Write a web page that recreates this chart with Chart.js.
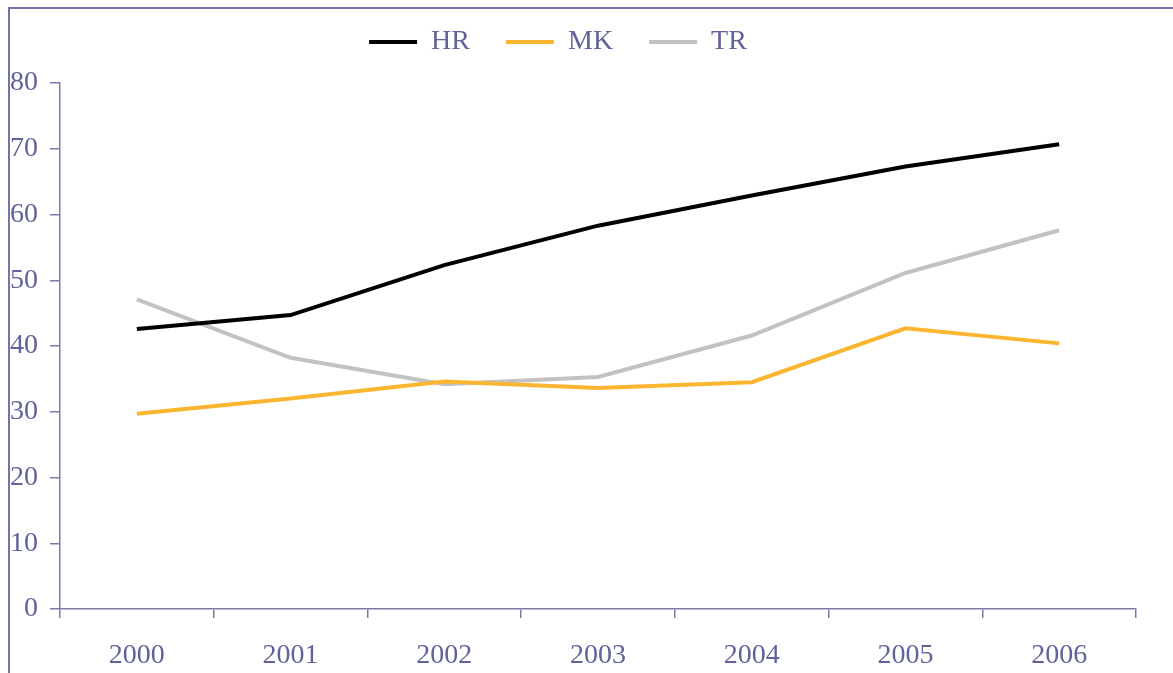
<!DOCTYPE html>
<html>
<head>
<meta charset="utf-8">
<script src="https://cdn.jsdelivr.net/npm/chart.js@4"></script>
<style>
  html, body { margin: 0; padding: 0; background: #fff; }
  #wrap { position: relative; width: 1173px; height: 673px; overflow: hidden; }
  #frame { position: absolute; left: 8px; top: 7px; width: 1200px; height: 700px;
           border-left: 2px solid #7474a6; border-top: 2px solid #7474a6; box-sizing: border-box; }
  canvas { position: absolute; left: 0; top: 0; }
</style>
</head>
<body>
<div id="wrap">
  <div id="frame"></div>
  <canvas id="chart" width="1173" height="673"></canvas>
</div>
<script>
// Data
const years = ['2000', '2001', '2002', '2003', '2004', '2005', '2006'];
const hrValues = [42.6, 44.7, 52.3, 58.3, 62.9, 67.3, 70.7];
const mkValues = [29.7, 32.0, 34.6, 33.6, 34.5, 42.7, 40.4];
const trValues = [47.1, 38.2, 34.2, 35.3, 41.6, 51.1, 57.6];

const axisColor = '#7a7aaa';
const textColor = '#62629a';
const serif = "'Liberation Serif', 'Times New Roman', serif";

const makeLine = (label, data, color) => ({
  label,
  data,
  borderColor: color,
  backgroundColor: color,
  borderWidth: 4,
  pointRadius: 0,
  pointHoverRadius: 0,
  tension: 0,
  fill: false
});

// nudge the legend row up and a little to the left
const legendShift = {
  id: 'legendShift',
  afterLayout(chart) {
    const lg = chart.legend;
    lg.top -= 17;
    lg.bottom -= 17;
    lg.left -= 10;
    lg.right -= 10;
  }
};

new Chart(document.getElementById('chart'), {
  type: 'line',
  data: {
    labels: years,
    datasets: [
      makeLine('HR', hrValues, '#000000'),
      makeLine('MK', mkValues, '#fbb631'),
      makeLine('TR', trValues, '#c2c2c2')
    ]
  },
  plugins: [legendShift],
  options: {
    responsive: false,
    animation: false,
    layout: { padding: { top: 9, right: 37, left: 0, bottom: 0 } },
    plugins: {
      tooltip: { enabled: false },
      legend: {
        position: 'top',
        align: 'center',
        labels: {
          usePointStyle: true,
          pointStyle: 'line',
          pointStyleWidth: 48,
          color: textColor,
          font: { family: serif, size: 28 },
          padding: 36
        }
      }
    },
    scales: {
      x: {
        offset: true,
        grid: { offset: true, drawOnChartArea: false, drawTicks: true, tickLength: 9, color: axisColor, lineWidth: 1.5 },
        border: { display: true, color: axisColor, width: 1.5 },
        ticks: { color: textColor, font: { family: serif, size: 28 }, padding: 21, maxRotation: 0 },
        afterFit: (scale) => { scale.height = 64; }
      },
      y: {
        min: 0,
        max: 80,
        grid: { drawOnChartArea: false, drawTicks: true, tickLength: 10, color: axisColor, lineWidth: 1.5 },
        border: { display: true, color: axisColor, width: 1.5 },
        ticks: { stepSize: 10, color: textColor, font: { family: serif, size: 28 }, padding: 12 },
        afterFit: (scale) => { scale.width = 60; }
      }
    }
  }
});
</script>
</body>
</html>
